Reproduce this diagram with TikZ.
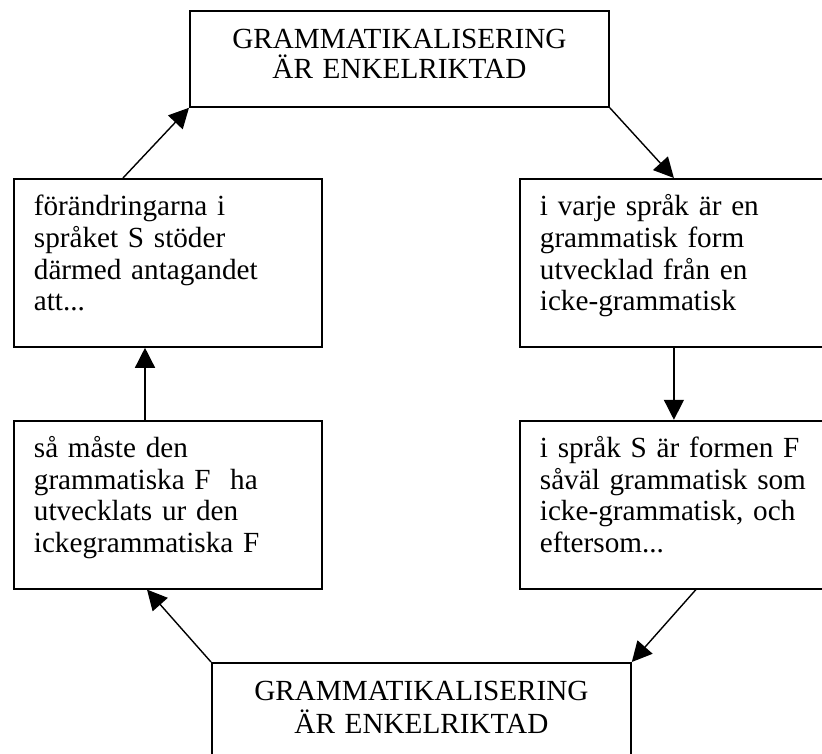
\documentclass[tikz,border=0pt]{standalone}
\usepackage{fontspec}
\setmainfont{Liberation Serif}
\usetikzlibrary{arrows.meta,positioning}

\begin{document}
\begin{tikzpicture}[>={Triangle[length=10pt,width=10pt]}, node distance=36pt,
    font=\fontsize{14.6}{15.8}\selectfont,
    b/.style={draw, line width=0.9pt, anchor=north west, inner xsep=10pt, inner ysep=6pt},
    side/.style={b, align=left, text width=134pt, text height=12.5pt, text depth=59.5pt},
    head/.style={b, align=center, text width=189.5pt, text height=13pt, text depth=23pt},
    arr/.style={->, line width=0.7pt}]
  \useasboundingbox (0,0) rectangle (411pt,376.5pt);
  \node[head, font=\fontsize{14.6}{15}\selectfont] (tb) at (94.5pt,371.5pt)
    {GRAMMATIKALISERING\\ ÄR ENKELRIKTAD};
  \node[side] (lu) at (6.5pt,287.5pt)
    {förändringarna i\\ språket S stöder\\ därmed antagandet\\ att...};
  \node[side] (ru) at (259.5pt,287.5pt)
    {i varje språk är en\\ grammatisk form\\ utvecklad från en\\ icke-grammatisk};
  \node[side, below=of lu] (ll)
    {så måste den\\ grammatiska F\ \ ha\\ utvecklats ur den\\ ickegrammatiska F};
  \node[side, below=of ru] (rl)
    {i språk S är formen F\\ såväl grammatisk som\\ icke-grammatisk, och\\ eftersom...};
  \node[head, font=\fontsize{14.6}{16.5}\selectfont, text depth=40pt] (bb) at (105.5pt,45.5pt)
    {GRAMMATIKALISERING\\ ÄR ENKELRIKTAD};
  \draw[arr] ([xshift=55pt]lu.north west) -- (tb.south west);
  \draw[arr] (tb.south east) -- (ru.north);
  \draw[arr] (ru.south) -- (rl.north);
  \draw[arr] ([xshift=11pt]rl.south) -- (bb.north east);
  \draw[arr] (bb.north west) -- ([xshift=67pt]ll.south west);
  \draw[arr] ([xshift=66pt]ll.north west) -- ([xshift=66pt]lu.south west);
\end{tikzpicture}
\end{document}
